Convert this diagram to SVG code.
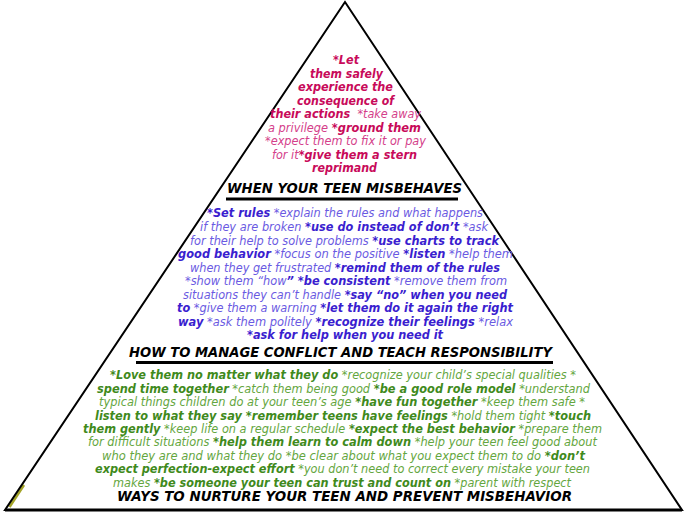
<svg xmlns="http://www.w3.org/2000/svg" width="685" height="513" viewBox="0 0 685 513">
<style>
text { font-family: "DejaVu Sans", Verdana, sans-serif; font-style: italic; font-size: 11.5px; }
.pb { fill: #c80a5a; font-weight: bold; }
.pn { fill: #d4408a; font-weight: normal; }
.bb { fill: #3a1ecf; font-weight: bold; }
.bn { fill: #6a5ae2; font-weight: normal; }
.gb { fill: #3f8a1c; font-weight: bold; }
.gn { fill: #64a640; font-weight: normal; }
.t { font-size: 13.5px; font-weight: bold; fill: #000; }
.bar { stroke: #000; stroke-width: 3; }
</style>
<rect width="685" height="513" fill="#fff"/>
<g id="frame">
  <line x1="9.5" y1="507" x2="24" y2="485" stroke="#a4a428" stroke-width="2.5"/>
  <polygon points="345,2 5,510 682,510" fill="none" stroke="#000" stroke-width="2" stroke-linejoin="miter"/>
  <line x1="5" y1="510" x2="682" y2="510" stroke="#000" stroke-width="3"/>
  <line class="bar" x1="226" y1="199" x2="458" y2="199"/>
  <line class="bar" x1="136" y1="362.5" x2="553" y2="362.5"/>
</g>
<g id="tier-top">
  <text x="333" y="64" textLength="26" lengthAdjust="spacingAndGlyphs"><tspan class="pb">*Let</tspan></text>
  <text x="310" y="77.5" textLength="73" lengthAdjust="spacingAndGlyphs"><tspan class="pb">them safely</tspan></text>
  <text x="298" y="91" textLength="95" lengthAdjust="spacingAndGlyphs"><tspan class="pb">experience the</tspan></text>
  <text x="297" y="104.5" textLength="97" lengthAdjust="spacingAndGlyphs"><tspan class="pb">consequence of</tspan></text>
  <text x="270" y="118" textLength="151" lengthAdjust="spacingAndGlyphs" xml:space="preserve"><tspan class="pb">their actions</tspan><tspan class="pn">  *take away</tspan></text>
  <text x="268" y="131.5" textLength="153" lengthAdjust="spacingAndGlyphs"><tspan class="pn">a privilege </tspan><tspan class="pb">*ground them</tspan></text>
  <text x="265" y="145" textLength="161" lengthAdjust="spacingAndGlyphs"><tspan class="pn">*expect them to fix it or pay</tspan></text>
  <text x="272" y="158.5" textLength="145" lengthAdjust="spacingAndGlyphs"><tspan class="pn">for it</tspan><tspan class="pb">*give them a stern</tspan></text>
  <text x="312" y="172" textLength="65" lengthAdjust="spacingAndGlyphs"><tspan class="pb">reprimand</tspan></text>
  <text class="t" x="227" y="193" textLength="235" lengthAdjust="spacingAndGlyphs">WHEN YOUR TEEN MISBEHAVES</text>
</g>
<g id="tier-middle">
  <text x="207" y="217" textLength="276" lengthAdjust="spacingAndGlyphs"><tspan class="bb">*Set rules</tspan><tspan class="bn"> *explain the rules and what happens</tspan></text>
  <text x="200" y="231" textLength="288" lengthAdjust="spacingAndGlyphs"><tspan class="bn">if they are broken </tspan><tspan class="bb">*use do instead of don’t</tspan><tspan class="bn"> *ask</tspan></text>
  <text x="190" y="244.5" textLength="309" lengthAdjust="spacingAndGlyphs"><tspan class="bn">for their help to solve problems </tspan><tspan class="bb">*use charts to track</tspan></text>
  <text x="178" y="258" textLength="335" lengthAdjust="spacingAndGlyphs"><tspan class="bb">good behavior</tspan><tspan class="bn"> *focus on the positive </tspan><tspan class="bb">*listen</tspan><tspan class="bn"> *help them</tspan></text>
  <text x="190" y="271.5" textLength="310" lengthAdjust="spacingAndGlyphs"><tspan class="bn">when they get frustrated </tspan><tspan class="bb">*remind them of the rules</tspan></text>
  <text x="185" y="285" textLength="322" lengthAdjust="spacingAndGlyphs"><tspan class="bn">*show them “how</tspan><tspan class="bb">” *be consistent</tspan><tspan class="bn"> *remove them from</tspan></text>
  <text x="183" y="298.5" textLength="324" lengthAdjust="spacingAndGlyphs"><tspan class="bn">situations they can’t handle </tspan><tspan class="bb">*say “no” when you need</tspan></text>
  <text x="177" y="312" textLength="336" lengthAdjust="spacingAndGlyphs"><tspan class="bb">to</tspan><tspan class="bn"> *give them a warning </tspan><tspan class="bb">*let them do it again the right</tspan></text>
  <text x="178" y="325.5" textLength="335" lengthAdjust="spacingAndGlyphs"><tspan class="bb">way</tspan><tspan class="bn"> *ask them politely </tspan><tspan class="bb">*recognize their feelings</tspan><tspan class="bn"> *relax</tspan></text>
  <text x="247" y="339" textLength="196" lengthAdjust="spacingAndGlyphs"><tspan class="bb">*ask for help when you need it</tspan></text>
  <text class="t" x="129" y="357" textLength="423" lengthAdjust="spacingAndGlyphs">HOW TO MANAGE CONFLICT AND TEACH RESPONSIBILITY</text>
</g>
<g id="tier-bottom">
  <text x="110" y="379" textLength="466" lengthAdjust="spacingAndGlyphs"><tspan class="gb">*Love them no matter what they do</tspan><tspan class="gn"> *recognize your child’s special qualities *</tspan></text>
  <text x="97" y="392.5" textLength="493" lengthAdjust="spacingAndGlyphs"><tspan class="gb">spend time together</tspan><tspan class="gn"> *catch them being good </tspan><tspan class="gb">*be a good role model</tspan><tspan class="gn"> *understand</tspan></text>
  <text x="99" y="406" textLength="486" lengthAdjust="spacingAndGlyphs"><tspan class="gn">typical things children do at your teen’s age </tspan><tspan class="gb">*have fun together</tspan><tspan class="gn"> *keep them safe *</tspan></text>
  <text x="95" y="419.5" textLength="496" lengthAdjust="spacingAndGlyphs"><tspan class="gb">listen to what they say *remember teens have feelings</tspan><tspan class="gn"> *hold them tight </tspan><tspan class="gb">*touch</tspan></text>
  <text x="83" y="433" textLength="519" lengthAdjust="spacingAndGlyphs"><tspan class="gb">them gently</tspan><tspan class="gn"> *keep life on a regular schedule </tspan><tspan class="gb">*expect the best behavior</tspan><tspan class="gn"> *prepare them</tspan></text>
  <text x="88" y="446" textLength="509" lengthAdjust="spacingAndGlyphs"><tspan class="gn">for difficult situations </tspan><tspan class="gb">*help them learn to calm down</tspan><tspan class="gn"> *help your teen feel good about</tspan></text>
  <text x="102" y="459.5" textLength="483" lengthAdjust="spacingAndGlyphs"><tspan class="gn">who they are and what they do *be clear about what you expect them to do </tspan><tspan class="gb">*don’t</tspan></text>
  <text x="95" y="473" textLength="495" lengthAdjust="spacingAndGlyphs"><tspan class="gb">expect perfection-expect effort</tspan><tspan class="gn"> *you don’t need to correct every mistake your teen</tspan></text>
  <text x="113" y="486.5" textLength="458" lengthAdjust="spacingAndGlyphs"><tspan class="gn">makes </tspan><tspan class="gb">*be someone your teen can trust and count on</tspan><tspan class="gn"> *parent with respect</tspan></text>
  <text class="t" x="117" y="501" textLength="455" lengthAdjust="spacingAndGlyphs">WAYS TO NURTURE YOUR TEEN AND PREVENT MISBEHAVIOR</text>
</g>
</svg>
